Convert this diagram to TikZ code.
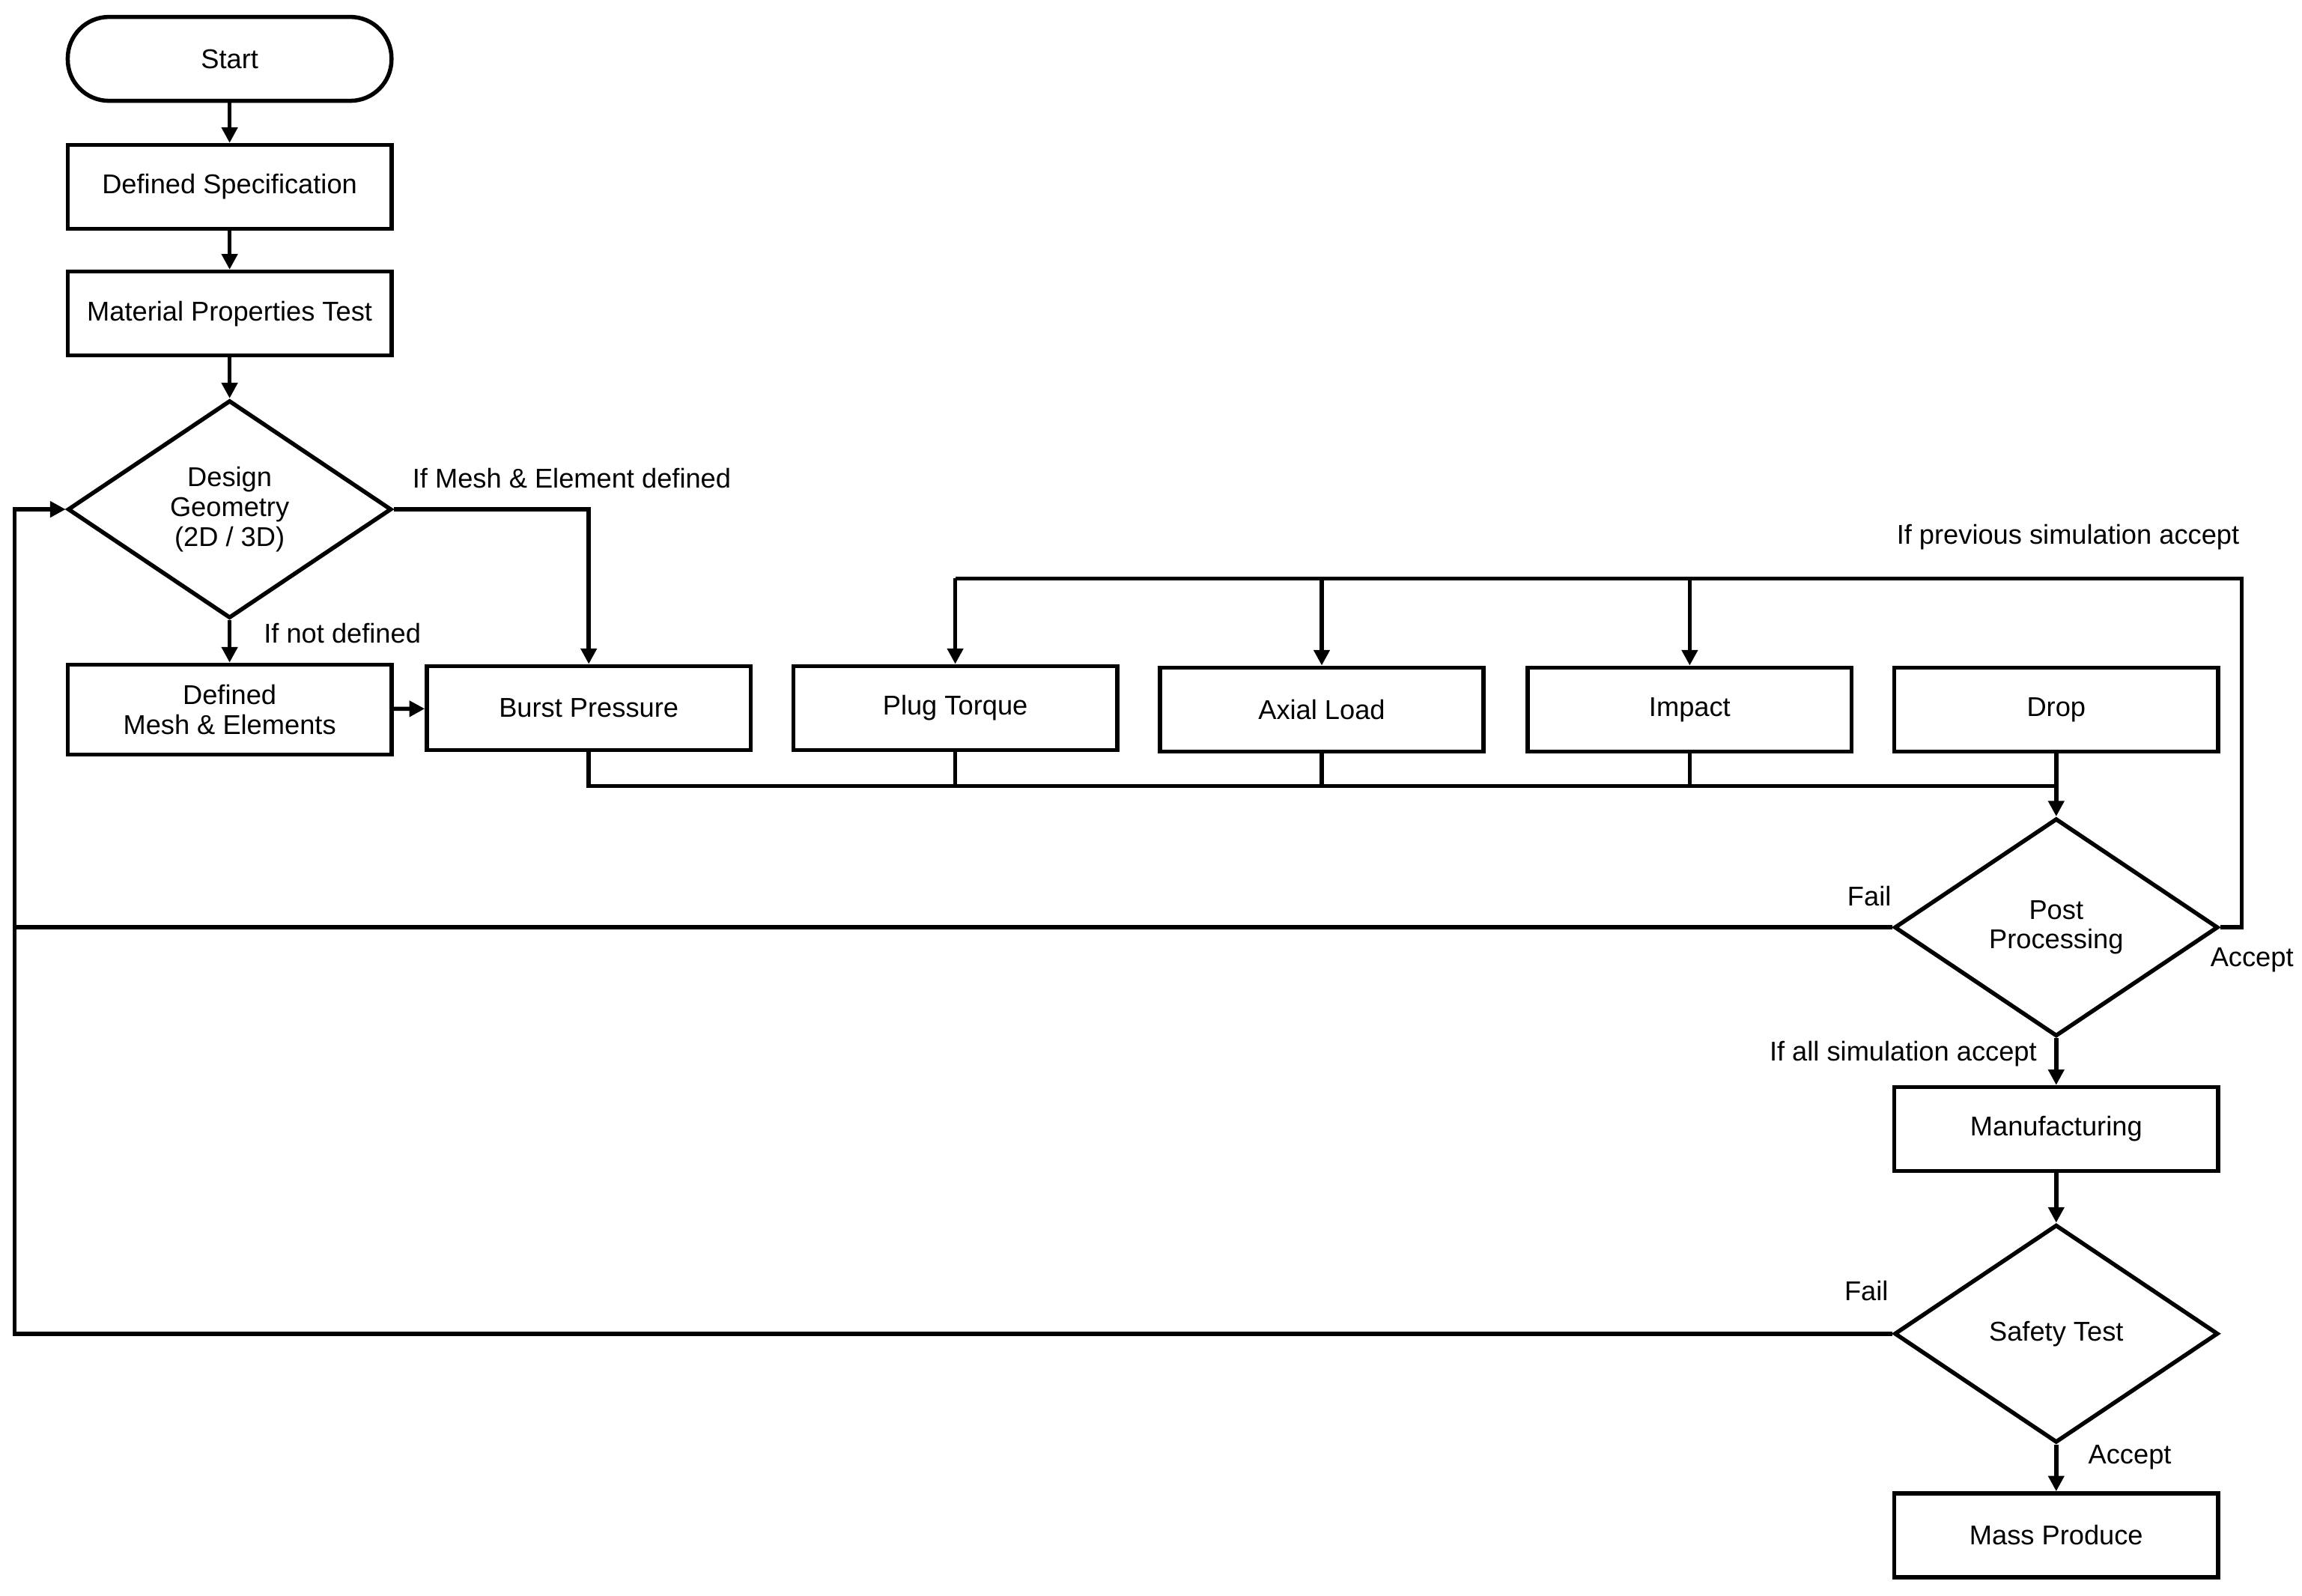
\documentclass[tikz,border=0pt]{standalone}
\usepackage{fontspec}
\setmainfont{Liberation Sans}
\usetikzlibrary{shapes.geometric,arrows.meta}
\begin{document}
\begin{tikzpicture}[x=0.02cm,y=-0.02cm,
  font=\fontsize{10.5}{11.5}\selectfont,
  line width=1.6pt,
  box/.style={draw,rectangle,minimum width=4.4cm,minimum height=1.14cm,align=center,inner sep=1pt},
  dia/.style={draw,diamond,minimum width=4.4cm,minimum height=2.96cm,aspect=1.49,align=center,inner sep=0pt},
  arr/.style={-{Triangle[length=6pt,width=6pt]}},
  lab/.style={font=\fontsize{10.5}{11.5}\selectfont}]
\useasboundingbox (0,0) rectangle (1564,1084);
\node[box,rounded corners=0.56cm] (start) at (156,40) {Start};
\node[box] (spec) at (156,127) {Defined Specification};
\node[box] (mat) at (156,213) {Material Properties Test};
\node[dia] (des) at (156,346) {Design\\Geometry\\(2D / 3D)};
\node[box,minimum height=1.22cm] (mesh) at (156,482) {Defined\\Mesh \& Elements};
\node[box] (burst) at (400,481) {Burst Pressure};
\node[box] (plug) at (649,481) {Plug Torque};
\node[box] (axial) at (898,482) {Axial Load};
\node[box] (impact) at (1148,482) {Impact};
\node[box] (drop) at (1397,482) {Drop};
\node[dia] (post) at (1397,630) {Post\\Processing};
\node[box] (manu) at (1397,767) {Manufacturing};
\node[dia] (safe) at (1397,906) {Safety Test};
\node[box] (mass) at (1397,1043) {Mass Produce};
\coordinate (cr) at (1523,630);
\coordinate (ctop) at (1523,393);
\coordinate (cl) at (10,630);
\coordinate (clt) at (10,346);
\coordinate (cls) at (10,906);
\coordinate (cb) at (1397,534);

\draw[arr] (start) -- (spec);
\draw[arr] (spec) -- (mat);
\draw[arr] (mat) -- (des);
\draw[arr] (des.east) -| (burst.north);
\node[lab,anchor=west] at (273,325) {If Mesh \& Element defined};
\draw[arr] (des.south) -- (mesh.north);
\node[lab,anchor=west] at (172,430) {If not defined};
\draw[arr] (mesh) -- (burst);
\draw (burst.south) |- (cb);
\draw (plug.south) |- (cb);
\draw (axial.south) |- (cb);
\draw (impact.south) |- (cb);
\draw[arr] (drop.south) -- (post.north);
\draw (post.east) -- (cr) -- (ctop) -- (plug.north |- ctop);
\draw[arr] (plug.north |- ctop) -- (plug.north);
\draw[arr] (axial.north |- ctop) -- (axial.north);
\draw[arr] (impact.north |- ctop) -- (impact.north);
\node[lab] at (1405,365) {If previous simulation accept};
\node[lab] at (1530,652) {Accept};
\draw[arr] (post.west) -- (cl) -- (clt) -- (des.west);
\node[lab] at (1270,609) {Fail};
\draw (safe.west) -- (cls) -- (cl);
\node[lab] at (1268,877) {Fail};
\draw[arr] (post.south) -- (manu.north);
\node[lab] at (1293,716) {If all simulation accept};
\draw[arr] (manu) -- (safe);
\draw[arr] (safe.south) -- (mass.north);
\node[lab] at (1447,990) {Accept};
\end{tikzpicture}
\end{document}
